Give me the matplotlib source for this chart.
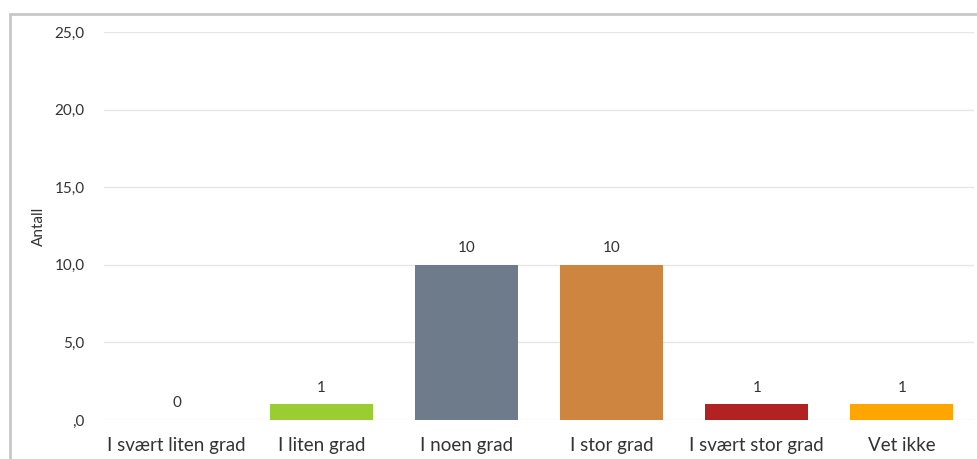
import matplotlib
matplotlib.use("Agg")
import matplotlib.pyplot as plt
from matplotlib.patches import Rectangle
from matplotlib.ticker import FuncFormatter

categories = ["I svært liten grad", "I liten grad", "I noen grad", "I stor grad", "I svært stor grad", "Vet ikke"]
values = [0, 1, 10, 10, 1, 1]
colors = ["#9ACD32", "#9ACD32", "#6E7B8B", "#CD853F", "#B22222", "#FFA500"]
yticks = [0, 5, 10, 15, 20, 25]

plt.rcParams['font.family'] = ['Lato', 'DejaVu Sans']

W, H = 977, 459
fig = plt.figure(figsize=(W / 100, H / 100), dpi=100)
fig.patch.set_facecolor("white")

# outer frame
fig.patches.append(Rectangle((10 / W, -0.1), 1.1, (H - 14) / H + 0.1, transform=fig.transFigure,
                             fill=False, edgecolor="#c8c8c8", linewidth=2, zorder=0))

ax = fig.add_axes([104 / W, 1 - 420 / H, (974.5 - 104) / W, (420 - 32) / H])
ax.set_facecolor("none")
x = list(range(len(categories)))
bars = ax.bar(x, values, width=0.71, color=colors, zorder=3)
for xi, v in zip(x, values):
    ax.annotate(str(v), (xi, v), xytext=(0, 7), textcoords="offset points",
                ha="center", va="bottom", fontsize=11, color="#333333")

ax.set_xlim(-0.5, len(categories) - 0.5)
ax.set_ylim(0, 25)
ax.set_yticks(yticks)
ax.yaxis.set_major_formatter(FuncFormatter(lambda v, p: ",0" if v == 0 else f"{v:.1f}".replace(".", ",")))
ax.set_xticks(x)
ax.set_xticklabels(categories, fontsize=13.5, color="#333333")
ax.tick_params(axis="y", labelsize=11, colors="#333333", length=0, pad=14)
ax.tick_params(axis="x", length=0, pad=12)
ax.grid(axis="y", color="#e6e6e6", linewidth=1, zorder=0)
for s in ax.spines.values():
    s.set_visible(False)
ax.set_ylabel("Antall", fontsize=11, color="#333333", labelpad=6)

fig.savefig("out.png", dpi=100)
